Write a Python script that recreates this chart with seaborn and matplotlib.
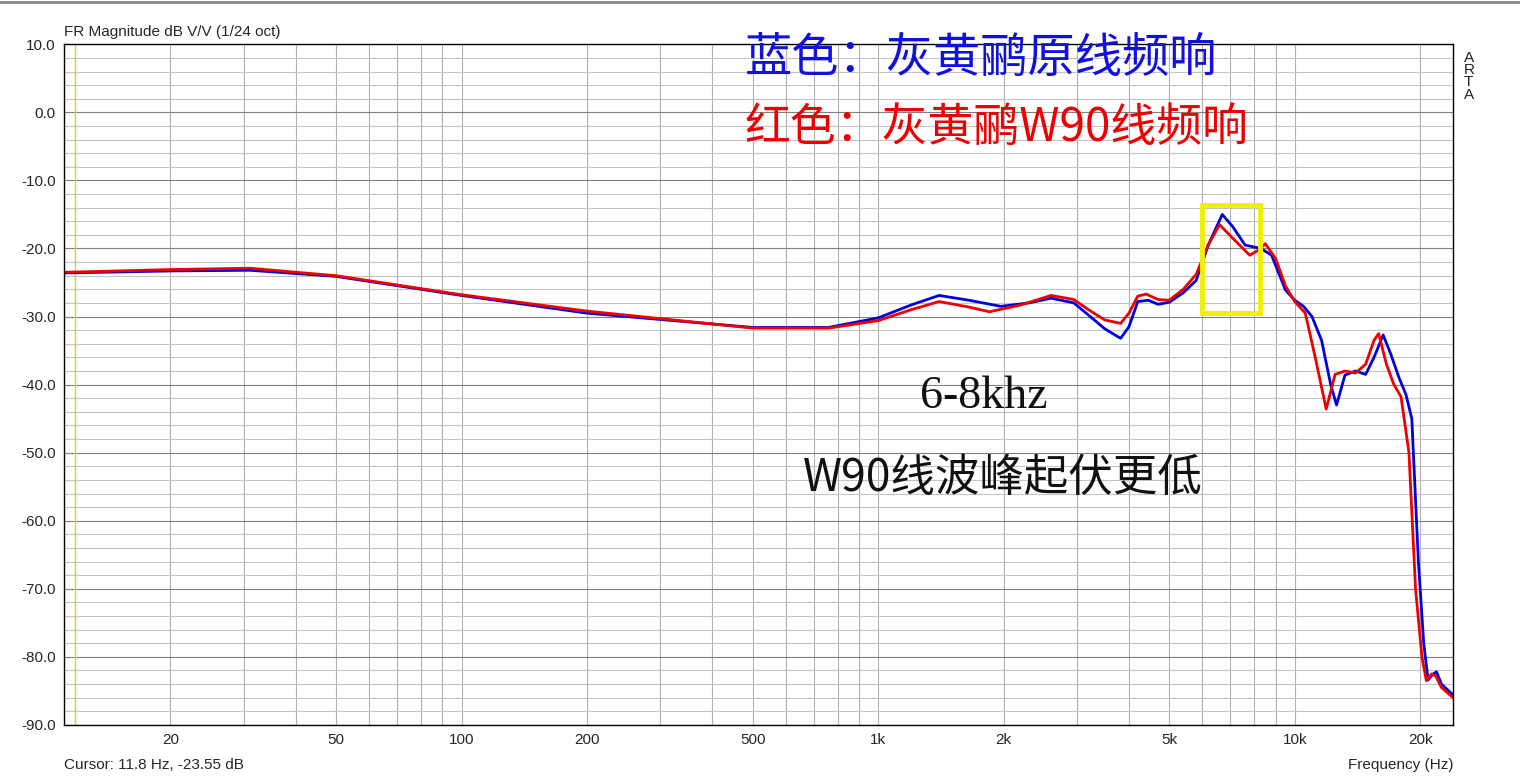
import numpy as np
import pandas as pd
import matplotlib
matplotlib.use("Agg")
import matplotlib.pyplot as plt
import seaborn as sns
from matplotlib.patches import Rectangle

# frequency response (Hz, dB)
freq_blue = [11.1, 20, 31, 50, 100, 200, 500, 760, 1000, 1200, 1400, 1650, 1970, 2300, 2600, 2950, 3200, 3500, 3820,
             4000, 4200, 4450, 4700, 5000, 5400, 5800, 6200, 6700, 7100, 7600, 8300, 8800, 9500, 10000, 10500, 11000,
             11600, 12200, 12600, 13200, 14000, 14800, 15500, 16300, 17000, 17800, 18500, 19100, 19800, 20400, 20900,
             21500, 21900, 22500, 24000]
db_blue = [-23.6, -23.3, -23.2, -24.1, -26.9, -29.5, -31.6, -31.6, -30.2, -28.3, -26.9, -27.6, -28.5, -28.0, -27.3,
           -28.0, -29.8, -31.8, -33.2, -31.5, -27.8, -27.6, -28.2, -27.9, -26.5, -24.7, -19.5, -15.0, -16.8, -19.5,
           -20.0, -21.0, -26.1, -27.6, -28.5, -30.0, -33.5, -40.0, -43.0, -38.6, -38.0, -38.5, -36.0, -32.7, -35.5,
           -39.0, -41.5, -45.0, -65.8, -78.0, -83.4, -82.5, -82.2, -84.0, -85.6]
freq_red = [11.1, 20, 31, 50, 100, 200, 500, 760, 1000, 1200, 1400, 1650, 1850, 2200, 2600, 2950, 3200, 3500, 3820,
            4000, 4200, 4400, 4700, 5000, 5400, 5800, 6200, 6600, 7100, 7800, 8200, 8500, 9000, 9500, 10000, 10600,
            11200, 11900, 12500, 13200, 14000, 14800, 15500, 15900, 16600, 17300, 18000, 18800, 19500, 20200, 20700,
            21300, 21800, 22500, 24000]
db_red = [-23.5, -23.1, -22.9, -24.0, -26.8, -29.2, -31.7, -31.7, -30.6, -29.0, -27.8, -28.6, -29.3, -28.3, -26.9,
          -27.5, -29.0, -30.5, -31.0, -29.5, -27.0, -26.7, -27.5, -27.6, -26.0, -23.8, -19.5, -16.5, -18.5, -21.0,
          -20.2, -19.3, -21.5, -25.5, -27.8, -29.5, -36.0, -43.6, -38.5, -38.0, -38.3, -37.0, -33.5, -32.5, -37.0,
          -40.0, -41.8, -50.0, -70.0, -80.0, -83.5, -82.5, -82.8, -84.5, -86.0]

major_ticks = [20, 50, 100, 200, 500, 1000, 2000, 5000, 10000, 20000]
major_labels = ["20", "50", "100", "200", "500", "1k", "2k", "5k", "10k", "20k"]

df = pd.concat([
    pd.DataFrame({"f": freq_blue, "db": db_blue, "s": "blue"}),
    pd.DataFrame({"f": freq_red, "db": db_red, "s": "red"}),
])

sns.set_style("white")
plt.rcParams['font.family'] = ['Noto Sans CJK SC', 'DejaVu Sans']

fig = plt.figure(figsize=(15.2, 7.77), dpi=100)
ax = fig.add_axes([0.042, 0.067, 0.914, 0.876])
sns.lineplot(data=df, x="f", y="db", hue="s", palette={"blue": "#0000dd", "red": "#ee0000"},
             lw=2, legend=False, ax=ax, sort=False)
ax.set_xscale("log")
ax.set_xlim(11.1, 24000)
ax.set_ylim(-90, 10)

minor_x = [m * 10 ** e for e in range(1, 5) for m in range(1, 10) if 11.1 < m * 10 ** e < 24000]
for v in minor_x:
    ax.axvline(v, color="#b0b0b0", lw=0.8, zorder=0)
for v in range(-90, 11, 2):
    ax.axhline(v, color="#808080" if v % 10 == 0 else "#c4c4c4", lw=0.8, zorder=0)
ax.axvline(11.8, color="#d8d800", lw=1, zorder=1)

ax.set_xticks(major_ticks)
ax.set_xticklabels(major_labels, fontsize=11, family="Liberation Sans")
ax.set_xticks(minor_x, minor=True)
ax.set_yticks(range(-90, 11, 10))
ax.set_yticklabels([f"{v:.1f}" for v in range(-90, 11, 10)], fontsize=11, family="Liberation Sans")
ax.set_yticks(range(-90, 11, 2), minor=True)
ax.tick_params(axis="both", which="both", direction="in", length=12, width=1, color="black", pad=6)
ax.tick_params(axis="y", which="minor", length=8)
ax.tick_params(axis="x", which="minor", length=10)
ax.set_xlabel("")
ax.set_ylabel("")
for s in ax.spines.values():
    s.set_color("black")
    s.set_linewidth(1)

ax.add_patch(Rectangle((6000, -29.5), 2250, 15.9, fill=False, edgecolor="#f0f000", lw=3.5, zorder=5))

fig.text(0.042, 0.95, "FR Magnitude dB V/V (1/24 oct)", fontsize=11, family="Liberation Sans", va="bottom")
fig.text(0.042, 0.006, "Cursor: 11.8 Hz, -23.55 dB", fontsize=11, family="Liberation Sans", va="bottom")
fig.text(0.956, 0.006, "Frequency (Hz)", fontsize=11, family="Liberation Sans", va="bottom", ha="right")
fig.text(0.963, 0.935, "A\nR\nT\nA", fontsize=11, family="Liberation Sans", va="top", linespacing=0.85)

fig.text(0.49, 0.925, "蓝色：灰黄鹂原线频响", fontsize=34, color="#1010e0", va="center", weight="medium")
fig.text(0.49, 0.835, "红色：灰黄鹂W90线频响", fontsize=33, color="#ee0000", va="center", weight="medium")
fig.text(0.605, 0.49, "6-8khz", fontsize=33, color="#111111", va="center", family=["Liberation Serif", "Noto Sans CJK SC"])
fig.text(0.528, 0.385, "W90线波峰起伏更低", fontsize=32, color="#111111", va="center")
fig.add_artist(plt.Line2D([0, 1], [0.997, 0.997], color="#888888", lw=2, transform=fig.transFigure))

fig.savefig("out.png", dpi=100)
